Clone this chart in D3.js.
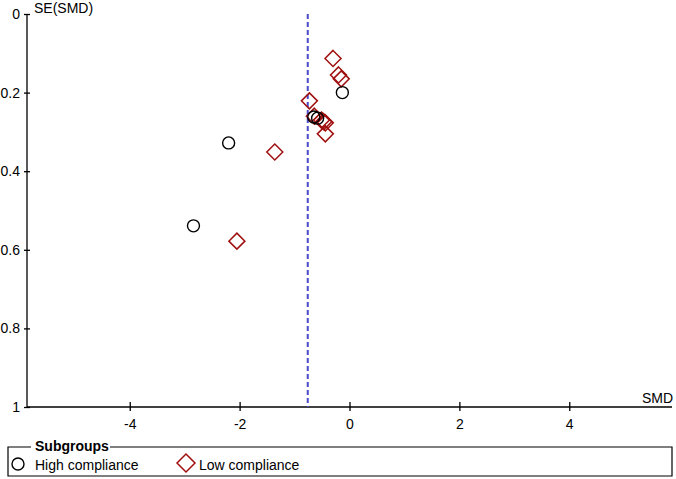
<!DOCTYPE html>
<html>
<head>
<meta charset="utf-8">
<script src="https://cdn.jsdelivr.net/npm/d3@7"></script>
<style>
  body { margin: 0; background: #fff; }
  text { font-family: "Liberation Sans", Arial, sans-serif; }
</style>
</head>
<body>
<svg id="chart" width="676" height="479"></svg>
<script>
// High compliance studies (circles)
let highSMD = [-0.13, -2.20, -2.84, -0.65, -0.58];
let highSE = [0.200, 0.328, 0.539, 0.262, 0.265];

// Low compliance studies (diamonds)
let lowSMD = [-0.30, -0.20, -0.15, -0.73, -1.36, -2.05, -0.64, -0.51, -0.47, -0.44, -0.44];
let lowSE = [0.113, 0.155, 0.165, 0.221, 0.351, 0.578, 0.260, 0.270, 0.274, 0.277, 0.305];

// Pooled estimate
let pooledSMD = -0.76;

let xTicks = [-4, -2, 0, 2, 4];
let yTicks = [0, 0.2, 0.4, 0.6, 0.8, 1];
let yTickLabels = ['0', '0.2', '0.4', '0.6', '0.8', '1'];

let fs = 14;
let svg = d3.select('#chart');

let x = d3.scaleLinear().domain([-5.87, 5.87]).range([27, 672]);
let y = d3.scaleLinear().domain([0, 1]).range([14, 407]);

// Axes
let xAxis = svg.append('g')
    .attr('transform', `translate(0,${y(1)})`)
    .call(d3.axisBottom(x).tickValues(xTicks).tickSizeInner(5).tickSizeOuter(0).tickPadding(5)
        .tickFormat((d) => d < 0 ? '-' + Math.abs(d) : d));
xAxis.select('.domain').attr('d', `M${x.range()[0]},0H${x.range()[1]}`);
xAxis.selectAll('.tick line').attr('y1', -5).attr('y2', 4);
xAxis.selectAll('.tick text').attr('font-size', fs).attr('fill', '#000').attr('dy', '0.85em');
xAxis.selectAll('path, line').attr('stroke', '#000').attr('stroke-width', 1.3);

let yAxis = svg.append('g')
    .attr('transform', `translate(${x.range()[0]},0)`)
    .call(d3.axisLeft(y).tickValues(yTicks).tickSizeInner(3).tickSizeOuter(0).tickPadding(4)
        .tickFormat((d, i) => yTickLabels[i]));
yAxis.select('.domain').attr('d', `M0,${y.range()[0]}V${y.range()[1]}`);
yAxis.selectAll('.tick line').attr('x1', -3).attr('x2', 3);
yAxis.selectAll('.tick text').attr('font-size', fs).attr('fill', '#000');
yAxis.selectAll('path, line').attr('stroke', '#000').attr('stroke-width', 1.3);

// Axis titles
svg.append('text').attr('x', 34).attr('y', 13).attr('font-size', fs).text('SE(SMD)');
svg.append('text').attr('x', 673).attr('y', 403).attr('font-size', fs)
    .attr('text-anchor', 'end').text('SMD');

// Pooled line
svg.append('line')
    .attr('x1', x(pooledSMD)).attr('x2', x(pooledSMD))
    .attr('y1', y(0)).attr('y2', y(1))
    .attr('stroke', '#4a4ac8').attr('stroke-width', 2)
    .attr('stroke-dasharray', '5,3');

let diamond = (cx, cy, r) => `M${cx},${cy - r}L${cx + r},${cy}L${cx},${cy + r}L${cx - r},${cy}Z`;

// Low compliance diamonds
svg.selectAll('path.low')
    .data(lowSMD)
    .enter()
    .append('path')
    .attr('class', 'low')
    .attr('d', (d, i) => diamond(x(d), y(lowSE[i]), 8))
    .attr('fill', 'none')
    .attr('stroke', '#a01010')
    .attr('stroke-width', 1.5);

// High compliance circles
svg.selectAll('circle.high')
    .data(highSMD)
    .enter()
    .append('circle')
    .attr('class', 'high')
    .attr('cx', (d) => x(d))
    .attr('cy', (d, i) => y(highSE[i]))
    .attr('r', 6)
    .attr('fill', 'none')
    .attr('stroke', '#000')
    .attr('stroke-width', 1.4);

// Legend
let lg = svg.append('g');
lg.append('path')
    .attr('d', 'M31,447H8V476H672V447H110')
    .attr('fill', 'none').attr('stroke', '#000').attr('stroke-width', 1.2);
lg.append('text').attr('x', 35).attr('y', 451).attr('font-size', fs)
    .attr('font-weight', 'bold').text('Subgroups');
lg.append('circle').attr('cx', 18).attr('cy', 464).attr('r', 6)
    .attr('fill', 'none').attr('stroke', '#000').attr('stroke-width', 1.4);
lg.append('text').attr('x', 35).attr('y', 470).attr('font-size', fs).text('High compliance');
lg.append('path').attr('d', diamond(186, 463, 9))
    .attr('fill', 'none').attr('stroke', '#a01010').attr('stroke-width', 1.5);
lg.append('text').attr('x', 199).attr('y', 470).attr('font-size', fs).text('Low compliance');
</script>
</body>
</html>
